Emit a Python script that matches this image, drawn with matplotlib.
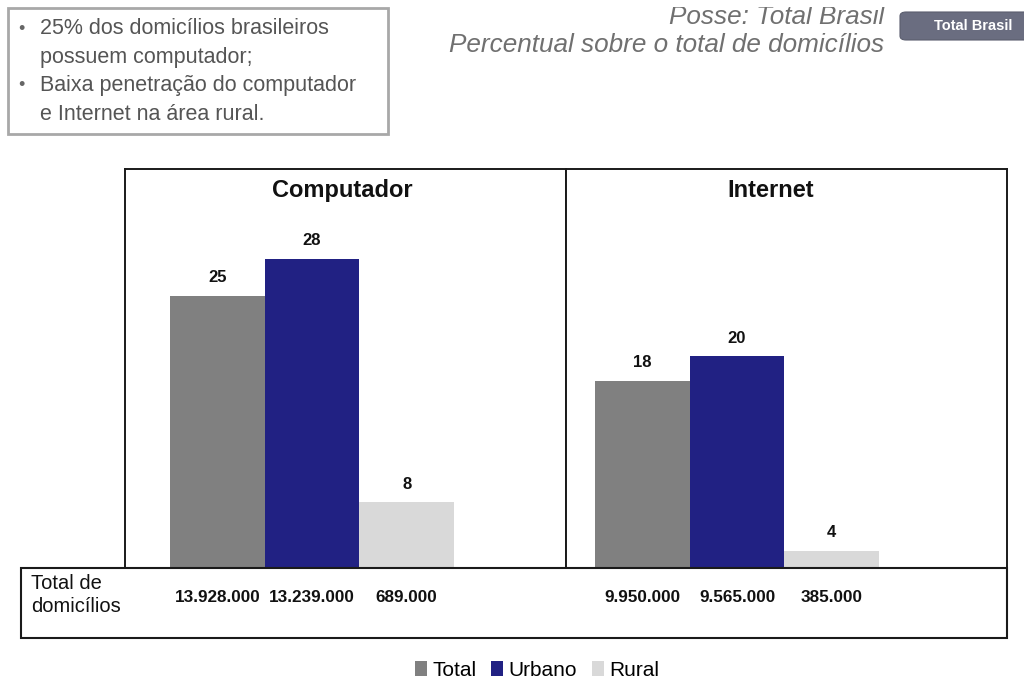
import matplotlib
matplotlib.use("Agg")
import matplotlib.pyplot as plt
from matplotlib.patches import Rectangle, FancyBboxPatch

# ---- data ----
series = ["Total", "Urbano", "Rural"]
colors = ["#808080", "#212183", "#d9d9d9"]
panels = ["Computador", "Internet"]
pct_computador = [25, 28, 8]
pct_internet = [18, 20, 4]
dom_computador = ["13.928.000", "13.239.000", "689.000"]
dom_internet = ["9.950.000", "9.565.000", "385.000"]
bullets = ["25% dos domicílios brasileiros", "possuem computador;",
           "Baixa penetração do computador", "e Internet na área rural."]
title_lines = ["Posse: Total Brasil", "Percentual sobre o total de domicílios"]
row_label = "Total de\ndomicílios"
button_label = "Total Brasil"

W, H = 1024, 677
fig = plt.figure(figsize=(W / 100, H / 100), dpi=100)
fig.patch.set_facecolor("white")
FONT = ["Liberation Sans", "DejaVu Sans"]
plt.rcParams["font.family"] = FONT


def fx(px):
    return px / W


def fy(py):
    return 1 - py / H


# ---- panels ----
y_lo, y_hi = 2.6, 35.4
panel_specs = [
    (panels[0], pct_computador, dom_computador, 125, 566, 45, 342),
    (panels[1], pct_internet, dom_internet, 566, 1007, 29, 771),
]
box_top, box_bot = 169, 568
bar_px = 94.7
bars_for_legend = None
for name, vals, doms, x0, x1, off, title_x in panel_specs:
    ax = fig.add_axes([fx(x0), fy(box_bot), fx(x1 - x0), (box_bot - box_top) / H])
    span = (x1 - x0) / bar_px
    left = -0.5 - off / bar_px
    ax.set_xlim(left, left + span)
    ax.set_ylim(y_lo, y_hi)
    xs = list(range(len(vals)))
    bars = ax.bar(xs, vals, width=1.0, color=colors, bottom=0, linewidth=0)
    if bars_for_legend is None:
        bars_for_legend = bars
    for x, v in zip(xs, vals):
        ax.annotate(str(v), (x, v), xytext=(0, 13), textcoords="offset points",
                    ha="center", va="center", fontsize=12, fontweight="bold",
                    color="#111111")
    ax.text((title_x - x0) / (x1 - x0), 0.945, name, transform=ax.transAxes,
            ha="center", va="center", fontsize=17, fontweight="bold",
            color="#111111")
    ax.set_xticks([])
    ax.set_yticks([])
    for s in ax.spines.values():
        s.set_linewidth(1.4)
        s.set_color("#1a1a1a")
    # household totals under each panel
    for x, d in zip(xs, doms):
        px = x0 + (x - left) * bar_px
        fig.text(fx(px), fy(597), d, ha="center", va="center", fontsize=12.3,
                 fontweight="bold", color="#111111")

# ---- table row ----
fig.add_artist(Rectangle((fx(21), fy(638)), fx(1007 - 21), (638 - 568) / H,
                         transform=fig.transFigure, fill=False,
                         edgecolor="#1a1a1a", linewidth=1.5))
fig.text(fx(31), fy(595), row_label, ha="left", va="center", fontsize=14.5,
         color="#111111", linespacing=1.25)

# ---- bullet box ----
fig.add_artist(Rectangle((fx(8), fy(134)), fx(380), 126 / H,
                         transform=fig.transFigure, fill=False,
                         edgecolor="#a8a8a8", linewidth=2))
line_y = [29, 57, 86, 114]
for i, (txt, yy) in enumerate(zip(bullets, line_y)):
    if i in (0, 2):
        fig.text(fx(18), fy(yy), "•", ha="left", va="center", fontsize=13,
                 color="#666666")
    fig.text(fx(40), fy(yy), txt, ha="left", va="center", fontsize=15.5,
             color="#555555")

# ---- titles ----
fig.text(fx(884), fy(24), title_lines[0], ha="right", va="baseline",
         fontsize=18.8, style="italic", color="#707070")
fig.text(fx(884), fy(52), title_lines[1], ha="right", va="baseline",
         fontsize=18.8, style="italic", color="#707070")
fig.add_artist(Rectangle((fx(430), fy(7)), fx(470), 7 / H,
                         transform=fig.transFigure, facecolor="white",
                         edgecolor="none", zorder=5))

# ---- button ----
fig.add_artist(FancyBboxPatch((fx(900), fy(40)), fx(140), 28 / H,
                              boxstyle="round,pad=0,rounding_size=0.006",
                              transform=fig.transFigure, facecolor="#6a6d80",
                              edgecolor="#5a5d6e", linewidth=0.8))
fig.text(fx(973), fy(26), button_label, ha="center", va="center", fontsize=10.5,
         fontweight="bold", color="white")

# ---- legend ----
fig.legend(bars_for_legend, series, loc="center",
           bbox_to_anchor=(fx(537), fy(670)), ncol=3, frameon=False,
           fontsize=15, handlelength=0.6, handleheight=0.75,
           handletextpad=0.25, columnspacing=0.7, borderpad=0)

fig.savefig("out.png", dpi=100)
